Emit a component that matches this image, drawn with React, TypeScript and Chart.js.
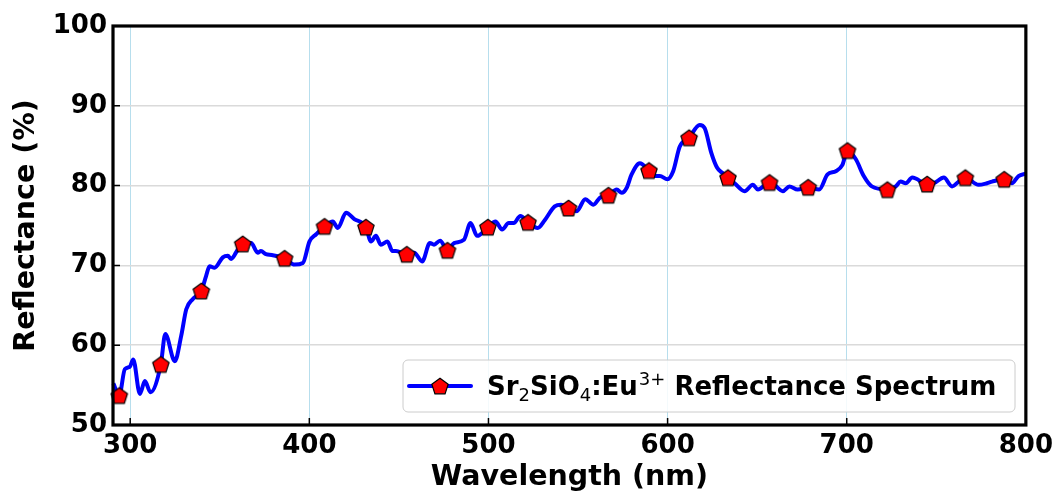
import React, { useEffect, useRef } from "react";
import { Chart, registerables } from "chart.js";

Chart.register(...registerables);

// Diffuse reflectance spectrum of Sr2SiO4:Eu3+ (wavelength in nm, reflectance in %)
const WAVELENGTH_NM = [
  290.6, 293.9, 297.0, 299.8, 301.7, 305.4, 308.2, 311.3, 317.1, 319.6,
  324.9, 328.5, 331.3, 335.0, 339.7, 342.4, 344.3, 347.1, 351.7, 354.5,
  356.3, 360.1, 362.8, 367.5, 371.2, 373.0, 375.8, 379.0, 386.2, 391.8,
  396.4, 400.1, 403.8, 408.5, 413.1, 415.9, 420.5, 425.1, 431.6, 434.4,
  437.2, 439.9, 443.6, 446.4, 448.3, 454.4, 458.5, 463.0, 467.3, 469.6,
  473.0, 477.1, 480.8, 486.3, 490.0, 493.7, 499.7, 503.9, 507.6, 511.3,
  514.1, 517.8, 522.1, 527.5, 531.5, 537.0, 540.5, 544.7, 549.3, 554.0,
  558.6, 562.3, 567.0, 571.6, 574.4, 577.1, 579.9, 584.5, 589.6, 592.9,
  595.7, 599.9, 603.1, 606.8, 612.0, 617.9, 620.7, 624.4, 627.5, 630.5,
  633.7, 637.4, 643.0, 647.6, 650.4, 656.9, 659.6, 664.3, 668.0, 672.6,
  678.5, 684.6, 689.3, 693.9, 697.6, 700.4, 705.1, 709.5, 714.0, 722.7,
  727.3, 730.1, 732.9, 736.6, 744.9, 748.7, 754.2, 758.8, 762.5, 766.2,
  773.6, 778.3, 781.1, 787.9, 792.2, 795.9, 800.0,
];

const REFLECTANCE_PCT = [
  55.2, 53.7, 57.0, 57.3, 58.2, 53.9, 55.5, 54.1, 57.6, 61.4,
  58.0, 61.2, 64.5, 65.8, 66.8, 68.7, 69.9, 69.7, 71.0, 71.2,
  70.8, 72.0, 72.7, 72.8, 71.6, 71.8, 71.4, 71.3, 70.9, 70.1,
  70.3, 73.0, 73.9, 74.9, 75.5, 74.7, 76.6, 75.8, 74.8, 73.0,
  73.7, 72.6, 73.0, 71.8, 71.8, 71.4, 71.6, 70.5, 72.8, 72.6,
  73.1, 71.9, 72.8, 73.2, 75.3, 73.7, 74.8, 75.5, 74.5, 75.3,
  75.3, 76.2, 75.4, 74.7, 75.7, 77.4, 77.6, 77.2, 76.8, 78.3,
  77.6, 78.5, 78.8, 79.5, 79.1, 79.7, 81.4, 82.8, 81.9, 81.2,
  81.2, 80.8, 81.8, 84.9, 86.0, 87.6, 87.2, 84.1, 82.3, 81.6,
  81.0, 80.3, 79.3, 80.1, 79.5, 80.4, 80.1, 79.3, 79.9, 79.5,
  79.8, 79.5, 81.4, 81.8, 82.6, 84.4, 83.3, 81.2, 79.9, 79.5,
  79.9, 80.5, 80.3, 81.0, 80.2, 80.3, 81.0, 79.9, 80.5, 81.0,
  80.1, 80.3, 80.5, 80.8, 80.3, 81.2, 81.5,
];

// Wavelengths that carry a pentagon marker
const MARKER_NM = [
  293.9, 317.1, 339.7, 362.8, 386.2, 408.5, 431.6, 454.4, 477.1, 499.7,
  522.1, 544.7, 567.0, 589.6, 612.0, 633.7, 656.9, 678.5, 700.4, 722.7,
  744.9, 766.2, 787.9,
];

const X_TICKS = [300, 400, 500, 600, 700, 800];
const Y_TICKS = [50, 60, 70, 80, 90, 100];
const X_RANGE = [290.4, 800];
const Y_RANGE = [50, 100];

const X_TITLE = "Wavelength (nm)";
const Y_TITLE = "Reflectance (%)";
// Legend label split into runs: [text, kind]
const LEGEND_RUNS: [string, "n" | "sub" | "sup"][] = [
  ["Sr", "n"],
  ["2", "sub"],
  ["SiO", "n"],
  ["4", "sub"],
  [":Eu", "n"],
  ["3+", "sup"],
  [" Reflectance Spectrum", "n"],
];

const FONT = "'DejaVu Sans', sans-serif";
const LINE_COLOR = "#0000ff";
const MARKER_FILL = "#ff0000";

function makePentagon(r: number): HTMLCanvasElement {
  const size = Math.ceil(r * 2 + 4);
  const c = document.createElement("canvas");
  c.width = size;
  c.height = size;
  const g = c.getContext("2d")!;
  const cx = size / 2;
  const cy = size / 2;
  g.beginPath();
  for (let k = 0; k < 5; k++) {
    const a = -Math.PI / 2 + (k * 2 * Math.PI) / 5;
    const px = cx + r * Math.cos(a);
    const py = cy + r * Math.sin(a) + r * 0.1;
    if (k === 0) g.moveTo(px, py);
    else g.lineTo(px, py);
  }
  g.closePath();
  g.fillStyle = MARKER_FILL;
  g.fill();
  g.lineWidth = 1.2;
  g.strokeStyle = "#000";
  g.stroke();
  return c;
}

export default function App() {
  const ref = useRef<HTMLCanvasElement | null>(null);

  useEffect(() => {
    if (!ref.current) return;
    const pentagon = makePentagon(8.6);

    const framePlugin = {
      id: "frame",
      afterDatasetsDraw(chart: any) {
        const { ctx, chartArea: a, scales } = chart;
        ctx.save();
        ctx.strokeStyle = "#000";
        // inward tick marks
        ctx.lineWidth = 1.5;
        ctx.beginPath();
        for (const t of X_TICKS) {
          const x = scales.x.getPixelForValue(t);
          ctx.moveTo(x, a.bottom);
          ctx.lineTo(x, a.bottom - 7);
        }
        for (const t of Y_TICKS) {
          const y = scales.y.getPixelForValue(t);
          ctx.moveTo(a.left, y);
          ctx.lineTo(a.left + 7, y);
        }
        ctx.stroke();
        // heavy axes frame
        ctx.lineWidth = 3.2;
        ctx.strokeRect(a.left, a.top, a.right - a.left, a.bottom - a.top);
        ctx.restore();
      },
      afterDraw(chart: any) {
        const { ctx } = chart;
        const bx = 403;
        const by = 360;
        const bw = 612;
        const bh = 52;
        ctx.save();
        // legend frame
        ctx.beginPath();
        ctx.roundRect(bx, by, bw, bh, 5);
        ctx.fillStyle = "rgba(255,255,255,0.85)";
        ctx.fill();
        ctx.lineWidth = 1;
        ctx.strokeStyle = "#cccccc";
        ctx.stroke();
        // line handle with marker
        const cy = by + bh / 2;
        ctx.beginPath();
        ctx.moveTo(409, cy);
        ctx.lineTo(471, cy);
        ctx.lineWidth = 4;
        ctx.strokeStyle = LINE_COLOR;
        ctx.lineCap = "round";
        ctx.stroke();
        ctx.drawImage(pentagon, 440 - pentagon.width / 2, cy - pentagon.height / 2);
        // label text
        const fs = 26;
        let x = 487;
        const base = cy + fs * 0.36;
        ctx.fillStyle = "#000";
        ctx.textBaseline = "alphabetic";
        ctx.textAlign = "left";
        for (const [txt, kind] of LEGEND_RUNS) {
          if (kind === "n") {
            ctx.font = `bold ${fs}px ${FONT}`;
            ctx.fillText(txt, x, base);
          } else if (kind === "sub") {
            ctx.font = `${Math.round(fs * 0.7)}px ${FONT}`;
            ctx.fillText(txt, x, base + fs * 0.2);
          } else {
            ctx.font = `${Math.round(fs * 0.7)}px ${FONT}`;
            ctx.fillText(txt, x + 1, base - fs * 0.4);
          }
          x += ctx.measureText(txt).width + (kind === "sup" ? 1 : 0);
        }
        ctx.restore();
      },
    };

    const chart = new Chart(ref.current, {
      type: "line",
      data: {
        datasets: [
          {
            label: "Sr2SiO4:Eu3+ Reflectance Spectrum",
            data: WAVELENGTH_NM.map((w, i) => ({ x: w, y: REFLECTANCE_PCT[i] })),
            borderColor: LINE_COLOR,
            borderWidth: 4,
            cubicInterpolationMode: "monotone",
            pointStyle: pentagon as any,
            pointRadius: (c: any) =>
              MARKER_NM.includes(WAVELENGTH_NM[c.dataIndex]) ? 8 : 0,
            pointHoverRadius: 0,
            clip: false as any,
            fill: false,
          },
        ],
      },
      plugins: [framePlugin],
      options: {
        responsive: false,
        animation: false,
        events: [],
        layout: { padding: { left: 0, top: 26, right: 30, bottom: 0 } },
        plugins: { legend: { display: false }, tooltip: { enabled: false } },
        scales: {
          x: {
            type: "linear",
            min: X_RANGE[0],
            max: X_RANGE[1],
            afterBuildTicks: (s: any) => {
              s.ticks = X_TICKS.map((v) => ({ value: v }));
            },
            afterFit: (s: any) => {
              s.height = 67;
            },
            grid: {
              color: "rgba(135,200,225,0.6)",
              lineWidth: 1,
              drawTicks: false,
            },
            border: { display: false },
            ticks: {
              padding: 6,
              color: "#000",
              font: { family: FONT, size: 26, weight: "bold" },
              maxRotation: 0,
            },
            title: {
              display: true,
              text: X_TITLE,
              color: "#000",
              padding: 0,
              font: { family: FONT, size: 28.5, weight: "bold", lineHeight: 1 },
            },
          },
          y: {
            type: "linear",
            min: Y_RANGE[0],
            max: Y_RANGE[1],
            afterBuildTicks: (s: any) => {
              s.ticks = Y_TICKS.map((v) => ({ value: v }));
            },
            afterFit: (s: any) => {
              s.width = 113;
            },
            grid: {
              color: "#dadada",
              lineWidth: 1.6,
              drawTicks: false,
            },
            border: { display: false },
            ticks: {
              padding: 6,
              color: "#000",
              font: { family: FONT, size: 26, weight: "bold" },
            },
            title: {
              display: true,
              text: Y_TITLE,
              color: "#000",
              padding: { top: 12, bottom: 0 },
              font: { family: FONT, size: 28.5, weight: "bold", lineHeight: 1 },
            },
          },
        },
      },
    });
    return () => chart.destroy();
  }, []);

  return (
    <div style={{ position: "absolute", left: 0, top: 0, width: 1059, height: 492, background: "#fff" }}>
      <canvas ref={ref} width={1059} height={492} style={{ display: "block" }} />
    </div>
  );
}
